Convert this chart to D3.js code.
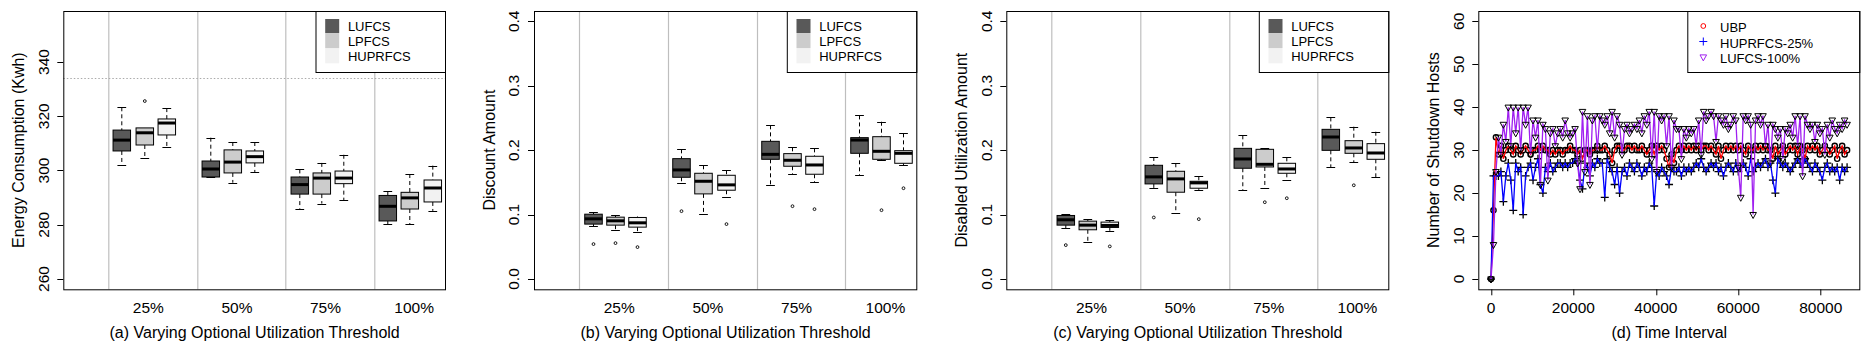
<!DOCTYPE html>
<html><head><meta charset="utf-8">
<script src="https://cdnjs.cloudflare.com/ajax/libs/d3/7.8.5/d3.min.js"></script>
<style>
body{margin:0;background:#fff}
svg{display:block}
text{font-family:Arial,"Liberation Sans",sans-serif;fill:#000}
</style></head><body>
<svg id="chart" width="1870" height="348"></svg>
<script>
// ---------------- DATA ----------------
const groups = ["25%", "50%", "75%", "100%"];
const methods = ["LUFCS", "LPFCS", "HUPRFCS"];

// box stats: [lower whisker, Q1, median, Q3, upper whisker] per group
const energyLUFCS   = [[302.2,307.2,311.2,314.9,323.3],[297.6,297.6,300.55,303.5,312.1],[285.9,291.3,294.8,297.6,300.4],[280.15,281.4,286.8,290.8,292.3]];
const energyLPFCS   = [[304.7,309.4,313.9,315.7,315.7],[295.5,299.1,303.1,307.6,310.5],[287.8,291.3,297.2,299.1,302.8],[280.15,285.8,289.9,291.95,298.7]];
const energyHUPRFCS = [[308.7,313.1,317.5,319.0,323.0],[299.45,302.8,305.1,307.2,310.5],[289.1,295.15,297.2,299.8,305.8],[285.1,288.4,293.55,296.5,301.8]];
const energyOutLUFCS = [[],[],[],[]];
const energyOutLPFCS = [[325.6],[],[],[]];
const energyOutHUPRFCS = [[],[],[],[]];
const energyRefLine = 334;

const discountLUFCS   = [[0.0821,0.0852,0.0934,0.1006,0.1037],[0.1497,0.1579,0.1693,0.1868,0.2013],[0.1455,0.1858,0.1935,0.2137,0.2385],[0.161,0.1951,0.2157,0.2194,0.2539]];
const discountLPFCS   = [[0.0764,0.0836,0.0903,0.096,0.0986],[0.1006,0.1321,0.1517,0.1641,0.1765],[0.1631,0.175,0.1843,0.1946,0.2044],[0.1843,0.1858,0.1982,0.2209,0.2441]];
const discountHUPRFCS = [[0.0733,0.0805,0.0872,0.0955,0.097],[0.127,0.1378,0.1461,0.161,0.1688],[0.1502,0.1626,0.177,0.1905,0.2028],[0.177,0.1796,0.1951,0.1992,0.2261]];
const discountOutLUFCS = [[0.0542],[0.1053],[],[]];
const discountOutLPFCS = [[0.0557],[],[0.113],[0.1068]];
const discountOutHUPRFCS = [[0.0495],[0.0852],[0.1084],[0.1409]];

const disabledLUFCS   = [[0.079,0.0836,0.0919,0.0986,0.1006],[0.1409,0.1476,0.1585,0.1765,0.1894],[0.1378,0.1719,0.1863,0.2028,0.223],[0.1734,0.1997,0.2204,0.2323,0.2508]];
const disabledLPFCS   = [[0.0573,0.0764,0.0836,0.0898,0.0924],[0.1022,0.1347,0.1554,0.1672,0.1796],[0.1409,0.1739,0.178,0.2013,0.2028],[0.1812,0.1951,0.2034,0.2147,0.2364]];
const disabledHUPRFCS = [[0.0748,0.08,0.0831,0.0883,0.0914],[0.1383,0.1409,0.1492,0.1517,0.1595],[0.1543,0.1641,0.1708,0.1796,0.1889],[0.1579,0.1858,0.1956,0.2101,0.2286]];
const disabledOutLUFCS = [[0.0526],[0.0955],[],[]];
const disabledOutLPFCS = [[],[],[0.1192],[0.1455]];
const disabledOutHUPRFCS = [[0.0506],[0.0929],[0.1254],[]];

const energyTicks = [260, 280, 300, 320, 340];
const amountTicks = [0.0, 0.1, 0.2, 0.3, 0.4];

// time series (one sample every 600 s)
const timeStep = 600;
const seriesNames = ["UBP", "HUPRFCS-25%", "LUFCS-100%"];
const ubp = [
 0,16,33,29,31,28,30,31,30,29,
 31,30,29,30,31,30,29,30,30,31,
 30,31,30,30,29,30,29,30,30,29,
 30,30,31,30,30,29,30,28,30,30,
 29,30,30,31,30,30,31,30,29,27,
 30,31,31,30,30,31,31,30,31,30,
 30,31,30,29,30,31,29,31,30,31,
 30,28,26,29,27,30,31,30,31,30,
 31,30,31,30,31,30,31,31,30,31,
 30,29,31,28,30,31,30,31,30,31,
 30,31,30,29,31,30,30,31,30,31,
 30,31,30,30,28,31,29,30,31,29,
 30,31,30,31,29,31,30,28,31,30,
 31,30,31,29,30,31,30,29,30,31,
 28,30,31,29,30];
const huprfcs25 = [
 0,24,24,24,25,18,24,27,23,16,
 27,25,26,15,24,26,27,23,26,28,
 22,20,26,25,27,25,26,27,27,26,
 27,26,27,27,28,27,23,21,27,26,
 24,27,26,28,27,27,19,28,26,25,
 22,26,20,25,26,24,27,26,25,27,
 26,24,26,25,27,26,17,25,24,26,
 25,24,22,26,25,25,26,24,26,25,
 26,25,26,27,26,28,26,25,26,27,
 26,27,25,26,24,26,27,26,25,27,
 25,26,27,26,24,28,25,26,27,26,
 27,28,26,27,23,20,28,27,26,27,
 26,25,26,27,28,27,26,28,27,26,
 25,27,26,25,23,26,27,25,26,25,
 26,23,26,25,26];
const lufcs100 = [
 0,8,25,33,29,36,32,40,31,40,
 34,40,30,40,36,40,29,37,33,37,
 22,36,35,23,34,35,31,34,35,33,
 37,34,33,34,35,27,21,39,25,38,
 22,37,38,30,38,37,36,38,34,39,
 33,38,36,29,35,36,34,35,36,35,
 37,34,38,36,39,28,39,25,38,37,
 38,31,38,26,37,35,35,28,35,33,
 35,34,35,31,37,29,39,37,38,39,
 38,32,38,37,36,38,35,36,38,37,
 26,19,38,37,38,36,15,37,38,36,
 38,31,36,27,36,35,33,35,28,35,
 34,36,33,38,31,38,24,38,36,35,
 36,32,36,34,35,29,36,33,37,35,
 34,36,35,37,36];
const timeTicks = [0, 20000, 40000, 60000, 80000];
const hostTicks = [0, 10, 20, 30, 40, 50, 60];

// ---------------- STYLE / LAYOUT ----------------
const fills = ["#595959", "#cccccc", "#f2f2f2"];
const seriesColors = ["#ff0000", "#0000ff", "#a020f0"];
const TOP = 11, H = 278.3;
const svg = d3.select("#chart");

function rotLabel(g, x, y, txt, size) {
  g.append("text").attr("transform", `translate(${x},${y}) rotate(-90)`)
    .attr("text-anchor", "middle").attr("dy", "0.35em")
    .style("font-size", size + "px").text(txt);
}

function frame(g, W, yScale, ticks, fmt, yTitle, xTitle) {
  ticks.forEach(t => {
    const yy = Math.round(yScale(t)) + 0.5;
    g.append("line").attr("x1", -6).attr("x2", 0).attr("y1", yy).attr("y2", yy).attr("stroke", "#000");
    rotLabel(g, -20, yScale(t), fmt(t), 15.5);
  });
  rotLabel(g, -45, H / 2, yTitle, 16);
  g.append("text").attr("x", W / 2).attr("y", H + 43).attr("dy", "0.35em")
    .attr("text-anchor", "middle").style("font-size", "16px").text(xTitle);
  g.append("rect").attr("x", 0.5).attr("y", 0.5).attr("width", W - 1).attr("height", H)
    .attr("fill", "none").attr("stroke", "#000");
}

function boxPanel(left, W, stats, outs, ydom, ticks, fmt, yTitle, xTitle, refLine) {
  const g = svg.append("g").attr("transform", `translate(${left},${TOP})`);
  const x = d3.scaleLinear().domain([-1.64, 15.64]).range([0, W]);
  const y = d3.scaleLinear().domain(ydom).range([H, 0]);
  const unit = x(1) - x(0);
  const bw = unit * 0.79;

  groups.forEach((grp, gi) => {
    const sx = Math.round(x(gi * 4 + 0.4)) + 0.5;
    g.append("line").attr("x1", sx).attr("x2", sx).attr("y1", 0).attr("y2", H)
      .attr("stroke", "#bebebe").attr("stroke-width", 1.2);
    g.append("text").attr("x", x(gi * 4 + 2.2)).attr("y", H + 18).attr("dy", "0.35em")
      .attr("text-anchor", "middle").style("font-size", "15.5px").text(grp);
  });
  if (refLine !== null) {
    const ry = Math.round(y(refLine)) + 0.5;
    g.append("line").attr("x1", 0).attr("x2", W).attr("y1", ry).attr("y2", ry)
      .attr("stroke", "#aaaaaa").attr("stroke-dasharray", "1.5,2");
  }

  methods.forEach((m, mi) => {
    stats[mi].forEach((s, gi) => {
      const cx = Math.round(x(gi * 4 + mi + 1)) + 0.5;
      const bg = g.append("g");
      bg.append("line").attr("x1", cx).attr("x2", cx).attr("y1", y(s[4])).attr("y2", y(s[3]))
        .attr("stroke", "#000").attr("stroke-dasharray", "4,3");
      bg.append("line").attr("x1", cx).attr("x2", cx).attr("y1", y(s[1])).attr("y2", y(s[0]))
        .attr("stroke", "#000").attr("stroke-dasharray", "4,3");
      [s[0], s[4]].forEach(v => {
        const vy = Math.round(y(v)) + 0.5;
        bg.append("line").attr("x1", cx - bw / 4).attr("x2", cx + bw / 4).attr("y1", vy).attr("y2", vy)
          .attr("stroke", "#000");
      });
      bg.append("rect").attr("x", cx - bw / 2).attr("y", y(s[3])).attr("width", bw)
        .attr("height", y(s[1]) - y(s[3])).attr("fill", fills[mi]).attr("stroke", "#000");
      bg.append("line").attr("x1", cx - bw / 2).attr("x2", cx + bw / 2).attr("y1", y(s[2])).attr("y2", y(s[2]))
        .attr("stroke", "#000").attr("stroke-width", 3);
      outs[mi][gi].forEach(v => {
        bg.append("circle").attr("cx", cx).attr("cy", y(v)).attr("r", 1.4)
          .attr("fill", "none").attr("stroke", "#000").attr("stroke-width", 0.9);
      });
    });
  });

  // legend
  const lw = 130.5, lx = W - lw;
  const lg = g.append("g").attr("transform", `translate(${lx},0)`);
  lg.append("rect").attr("x", 0.5).attr("y", 0.5).attr("width", lw - 1).attr("height", 61)
    .attr("fill", "#fff").attr("stroke", "#000");
  methods.forEach((m, mi) => {
    lg.append("rect").attr("x", 9.7).attr("y", 8 + mi * 15).attr("width", 14).attr("height", 14.3)
      .attr("fill", fills[mi]);
    lg.append("text").attr("x", 32.4).attr("y", 15.5 + mi * 15).attr("dy", "0.35em")
      .style("font-size", "13px").text(m);
  });

  frame(g, W, y, ticks, fmt, yTitle, xTitle);
}

const fmtInt = d3.format("d"), fmt1 = d3.format(".1f");
const energyStats = [energyLUFCS, energyLPFCS, energyHUPRFCS];
const energyOuts = [energyOutLUFCS, energyOutLPFCS, energyOutHUPRFCS];
boxPanel(63.3, 382.7, energyStats, energyOuts, [256.2, 358.8], energyTicks, fmtInt,
  "Energy Consumption (Kwh)", "(a) Varying Optional Utilization Threshold", energyRefLine);
boxPanel(534, 383.3, [discountLUFCS, discountLPFCS, discountHUPRFCS],
  [discountOutLUFCS, discountOutLPFCS, discountOutHUPRFCS], [-0.016, 0.416], amountTicks, fmt1,
  "Discount Amount", "(b) Varying Optional Utilization Threshold", null);
boxPanel(1006.3, 383, [disabledLUFCS, disabledLPFCS, disabledHUPRFCS],
  [disabledOutLUFCS, disabledOutLPFCS, disabledOutHUPRFCS], [-0.016, 0.416], amountTicks, fmt1,
  "Disabled Utilization Amount", "(c) Varying Optional Utilization Threshold", null);

// ---------------- PANEL D ----------------
(function () {
  const left = 1478.3, W = 382;
  const g = svg.append("g").attr("transform", `translate(${left},${TOP})`);
  const x = d3.scaleLinear().domain([0, 80000]).range([1491 - left, 1820.7 - left]);
  const y = d3.scaleLinear().domain([-2.4, 62.4]).range([H, 0]);
  const series = [ubp, huprfcs25, lufcs100];
  const pts = series.map(s => s.map((v, i) => [i * timeStep, v]));
  const line = d3.line().x(d => x(d[0])).y(d => y(d[1]));
  const tri = "M-3.3,-2.1L3.3,-2.1L0,3.9Z";
  const plus = "M-4,0H4M0,-4V4";

  // black markers for UBP & HUPRFCS
  g.append("g").selectAll("circle").data(pts[0]).join("circle")
    .attr("cx", d => x(d[0])).attr("cy", d => y(d[1])).attr("r", 2.6)
    .attr("fill", "none").attr("stroke", "#000").attr("stroke-width", 1.4);
  g.append("g").selectAll("path").data(pts[1]).join("path")
    .attr("transform", d => `translate(${x(d[0])},${y(d[1])})`).attr("d", plus)
    .attr("stroke", "#000").attr("stroke-width", 1.3).attr("fill", "none");
  // colored lines
  pts.forEach((p, si) => {
    g.append("path").datum(p).attr("d", line).attr("fill", "none")
      .attr("stroke", seriesColors[si]).attr("stroke-width", 1.3);
  });
  g.append("g").selectAll("path").data(pts[2]).join("path")
    .attr("transform", d => `translate(${x(d[0])},${y(d[1])})`).attr("d", tri)
    .attr("stroke", "#000").attr("fill", "none");

  // x ticks
  timeTicks.forEach(t => {
    const tx = Math.round(x(t)) + 0.5;
    g.append("line").attr("x1", tx).attr("x2", tx).attr("y1", H).attr("y2", H + 6).attr("stroke", "#000");
    g.append("text").attr("x", x(t)).attr("y", H + 18).attr("dy", "0.35em")
      .attr("text-anchor", "middle").style("font-size", "15.5px").text(t);
  });

  // legend
  const lw = 173, lx = W - lw;
  const lg = g.append("g").attr("transform", `translate(${lx},0)`);
  lg.append("rect").attr("x", 0.5).attr("y", 0.5).attr("width", lw - 1).attr("height", 61)
    .attr("fill", "#fff").attr("stroke", "#000");
  const syms = [null, plus, tri];
  seriesNames.forEach((nm, si) => {
    const cy = 15 + si * 15.5, cx = 16;
    if (si === 0) {
      lg.append("circle").attr("cx", cx).attr("cy", cy).attr("r", 2.4).attr("fill", "none").attr("stroke", seriesColors[si]);
    } else {
      lg.append("path").attr("transform", `translate(${cx},${cy})`).attr("d", syms[si])
        .attr("fill", "none").attr("stroke", seriesColors[si]);
    }
    lg.append("text").attr("x", 32.7).attr("y", cy + 1.5).attr("dy", "0.35em")
      .style("font-size", "13px").text(nm);
  });

  frame(g, W, y, hostTicks, fmtInt, "Number of Shutdown Hosts", "(d) Time Interval");
})();
</script>
</body></html>
